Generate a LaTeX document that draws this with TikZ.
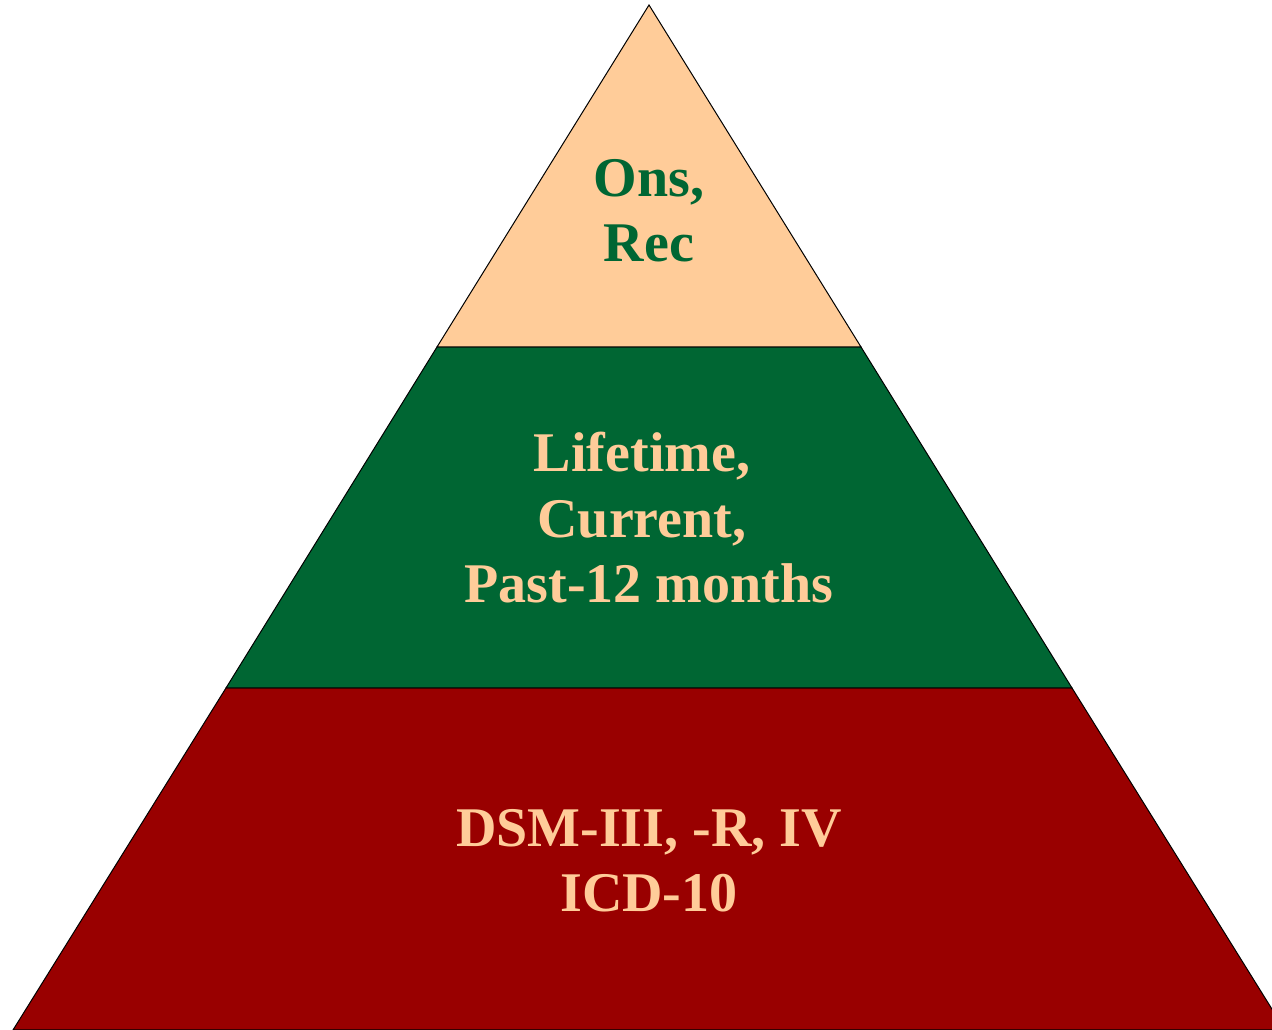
\documentclass[tikz,border=0pt]{standalone}
\usepackage{fontspec}
\setmainfont{Liberation Serif}
\definecolor{peach}{HTML}{FFCC99}
\definecolor{pgreen}{HTML}{006633}
\definecolor{pred}{HTML}{990000}
\tikzset{
  layer/.style={draw=black, line width=1pt, line join=miter},
  lbl/.style={font=\bfseries\fontsize{56}{65.5}\selectfont, align=center, anchor=base, inner sep=0pt}
}
\begin{document}
\begin{tikzpicture}[x=1pt,y=1pt]
\useasboundingbox (0,0) rectangle (1272,1030);
\clip (0,0) rectangle (1272,1030);
\coordinate (apex) at (649,1025);
\coordinate (l1) at (437,683);
\coordinate (r1) at (861,683);
\coordinate (l2) at (226,342);
\coordinate (r2) at (1072,342);
\coordinate (l3) at (13,0);
\coordinate (r3) at (1285,0);
\fill[pred, layer] (l2) -- (r2) -- (r3) -- (l3) -- cycle;
\fill[pgreen, layer] (l1) -- (r1) -- (r2) -- (l2) -- cycle;
\fill[peach, layer] (apex) -- (r1) -- (l1) -- cycle;
\node[lbl, text=pgreen] (top) at (649,768) {Ons,\\Rec};
\node[lbl, text=peach] (mid) at (649,427) {Lifetime,\hbox to 0.25em{}\\Current,\hbox to 0.25em{}\\Past-12 months};
\node[lbl, text=peach] (bot) at (649,118) {DSM-III, -R, IV\\ICD-10};
\end{tikzpicture}
\end{document}
